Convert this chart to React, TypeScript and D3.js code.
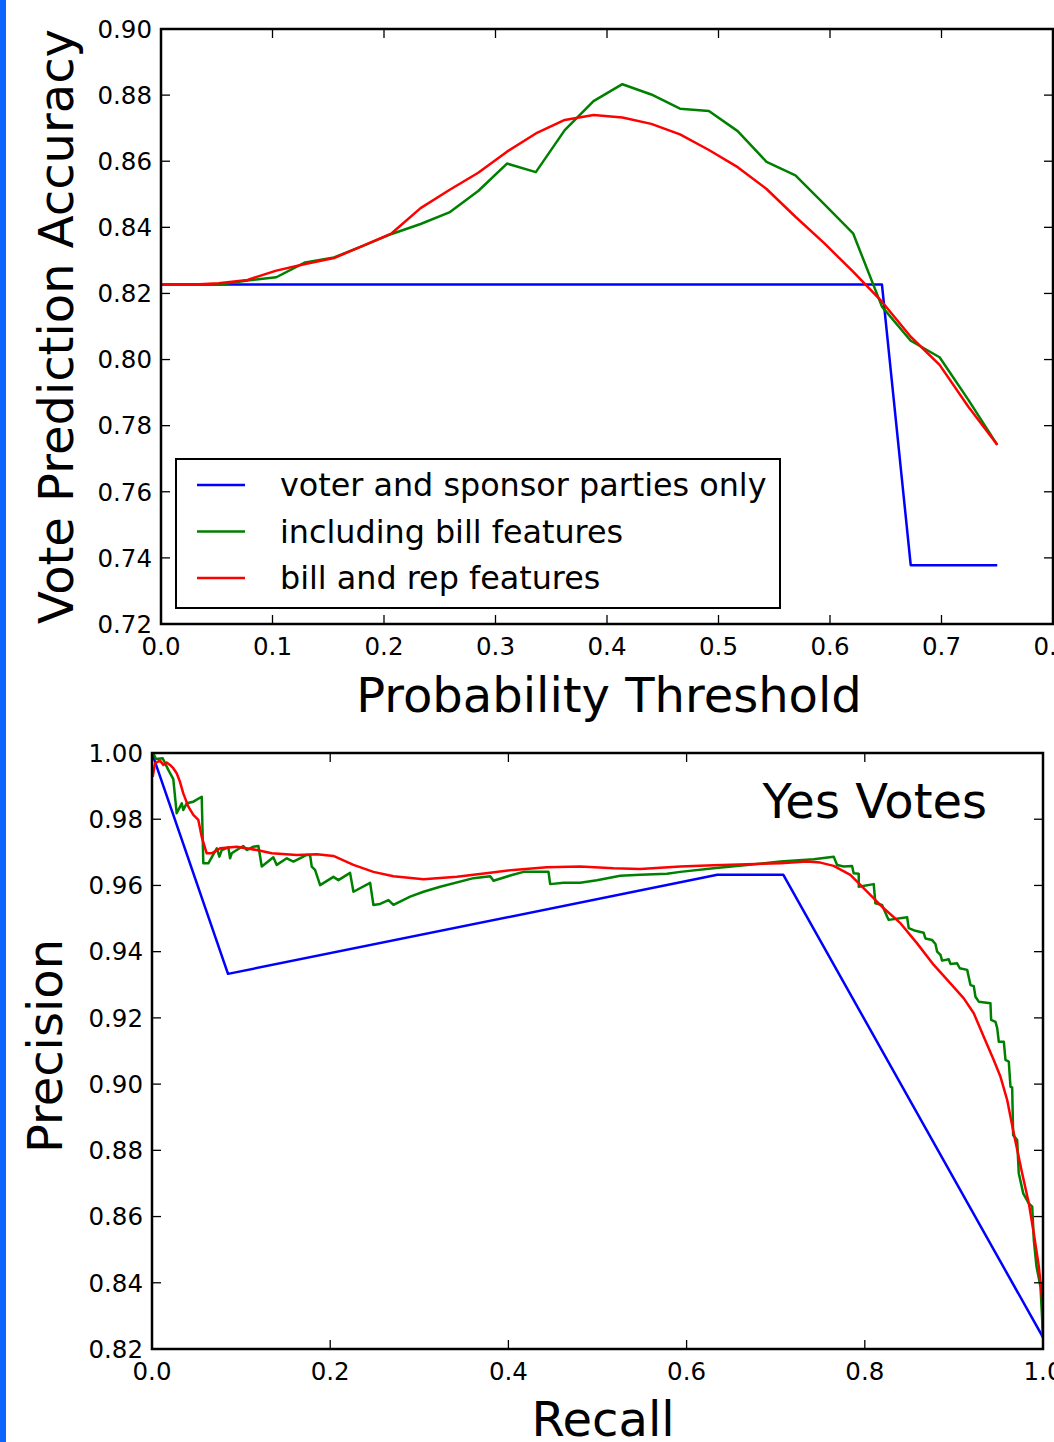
import React from "react";
import * as d3 from "d3";

// ---------- Top chart data ----------
const thresholds = [0, 0.0259, 0.0517, 0.0776, 0.1034, 0.1293, 0.1552, 0.181, 0.2069, 0.2328, 0.2586, 0.2845, 0.3103, 0.3362, 0.3621, 0.3879, 0.4138, 0.4397, 0.4655, 0.4914, 0.5172, 0.5431, 0.569, 0.5948, 0.6207, 0.6466, 0.6724, 0.6983, 0.7241, 0.75];
const accPartyOnly = [0.8227, 0.8227, 0.8227, 0.8227, 0.8227, 0.8227, 0.8227, 0.8227, 0.8227, 0.8227, 0.8227, 0.8227, 0.8227, 0.8227, 0.8227, 0.8227, 0.8227, 0.8227, 0.8227, 0.8227, 0.8227, 0.8227, 0.8227, 0.8227, 0.8227, 0.8227, 0.7378, 0.7378, 0.7378, 0.7378];
const accBill = [0.8226, 0.8226, 0.8226, 0.8239, 0.8249, 0.8294, 0.8309, 0.8344, 0.838, 0.841, 0.8445, 0.851, 0.8593, 0.8567, 0.8694, 0.8782, 0.8833, 0.8802, 0.8759, 0.8752, 0.8691, 0.8598, 0.8557, 0.847, 0.8382, 0.816, 0.8057, 0.8007, 0.7878, 0.7742];
const accBillRep = [0.8226, 0.8226, 0.8231, 0.8241, 0.8269, 0.8289, 0.8307, 0.8344, 0.8382, 0.8458, 0.8513, 0.8565, 0.8629, 0.8684, 0.8725, 0.874, 0.8732, 0.8713, 0.8681, 0.8634, 0.8582, 0.8516, 0.8432, 0.8352, 0.8266, 0.8175, 0.8069, 0.7984, 0.7857, 0.7742];
const topXTicks = [0, 0.1, 0.2, 0.3, 0.4, 0.5, 0.6, 0.7, 0.8];
const topYTicks = [0.72, 0.74, 0.76, 0.78, 0.8, 0.82, 0.84, 0.86, 0.88, 0.9];
const legendLabels = ["voter and sponsor parties only", "including bill features", "bill and rep features"];

// ---------- Bottom chart data ----------
const recallPartyOnly = [0, 0.0853, 0.6345, 0.7086, 1.0];
const precPartyOnly = [1.0, 0.9333, 0.9632, 0.9632, 0.8235];

const recallBill = [0.0015, 0.0045, 0.012, 0.0183, 0.0239, 0.0277, 0.0334, 0.0351, 0.039, 0.0464, 0.0558, 0.0576, 0.0632, 0.0727, 0.0756, 0.0783, 0.0857, 0.0876, 0.0895, 0.0951, 0.1025, 0.1063, 0.1138, 0.1194, 0.1232, 0.1362, 0.14, 0.1513, 0.1587, 0.1737, 0.1774, 0.1793, 0.183, 0.1887, 0.2036, 0.2092, 0.2223, 0.2261, 0.2448, 0.2485, 0.256, 0.2654, 0.271, 0.2897, 0.3047, 0.3234, 0.3608, 0.3796, 0.3833, 0.402, 0.417, 0.4376, 0.445, 0.4469, 0.4619, 0.4806, 0.4994, 0.5255, 0.548, 0.578, 0.5929, 0.6303, 0.6678, 0.7052, 0.7426, 0.7651, 0.7689, 0.7763, 0.7857, 0.7875, 0.7932, 0.7932, 0.81, 0.8119, 0.8194, 0.825, 0.8268, 0.8475, 0.8493, 0.8568, 0.8661, 0.868, 0.8756, 0.8793, 0.8812, 0.8849, 0.8868, 0.8942, 0.8961, 0.9036, 0.9066, 0.9149, 0.9186, 0.9223, 0.9242, 0.9279, 0.941, 0.9418, 0.9467, 0.9486, 0.9504, 0.956, 0.9579, 0.9616, 0.9635, 0.9654, 0.9665, 0.971, 0.9728, 0.9778, 0.984, 0.9879, 0.9897, 0.9927, 0.9972, 1.0];
const precBill = [0.9999, 0.9982, 0.9984, 0.9949, 0.9921, 0.9818, 0.9848, 0.9828, 0.9848, 0.9853, 0.9868, 0.9667, 0.9667, 0.9712, 0.9687, 0.9707, 0.9715, 0.9682, 0.9697, 0.9707, 0.9719, 0.9707, 0.9717, 0.9719, 0.9657, 0.9685, 0.9662, 0.9682, 0.9672, 0.9692, 0.9692, 0.9657, 0.9647, 0.9601, 0.9626, 0.9616, 0.9638, 0.9581, 0.9608, 0.9541, 0.9544, 0.9556, 0.9541, 0.9566, 0.9581, 0.9596, 0.9622, 0.9628, 0.9614, 0.963, 0.9641, 0.9641, 0.9641, 0.9604, 0.9608, 0.9608, 0.9616, 0.9629, 0.9632, 0.9635, 0.9641, 0.9652, 0.9662, 0.9672, 0.9679, 0.9687, 0.9662, 0.9657, 0.9659, 0.9637, 0.9635, 0.9596, 0.9604, 0.9546, 0.9541, 0.9506, 0.9496, 0.9504, 0.9471, 0.9463, 0.9457, 0.944, 0.9435, 0.9423, 0.94, 0.939, 0.9373, 0.9377, 0.9363, 0.9365, 0.935, 0.9345, 0.9299, 0.9296, 0.9264, 0.9249, 0.9244, 0.9194, 0.9188, 0.9169, 0.9128, 0.9128, 0.9073, 0.9068, 0.8992, 0.899, 0.8846, 0.8831, 0.8731, 0.867, 0.864, 0.863, 0.8529, 0.8449, 0.8388, 0.8240];

const recallBillRep = [0.0008, 0.0034, 0.009, 0.0127, 0.0165, 0.0202, 0.0239, 0.0277, 0.0314, 0.0351, 0.0408, 0.0464, 0.052, 0.0558, 0.0614, 0.067, 0.0764, 0.0951, 0.1176, 0.1344, 0.1625, 0.185, 0.2036, 0.2261, 0.2485, 0.271, 0.3047, 0.3422, 0.3796, 0.4057, 0.4432, 0.4806, 0.518, 0.548, 0.5929, 0.6303, 0.6678, 0.7052, 0.7352, 0.7501, 0.7651, 0.7838, 0.8026, 0.8212, 0.84, 0.8587, 0.8774, 0.8961, 0.9111, 0.9223, 0.9335, 0.9447, 0.9523, 0.9598, 0.9672, 0.9766, 0.9841, 0.9897, 0.9953, 0.9991, 1.0];
const precBillRep = [0.9928, 0.9969, 0.9977, 0.9964, 0.9971, 0.9964, 0.9954, 0.9939, 0.9913, 0.9878, 0.9838, 0.9813, 0.9798, 0.9747, 0.9697, 0.9697, 0.9712, 0.9717, 0.9707, 0.9697, 0.9692, 0.9694, 0.9689, 0.9662, 0.9641, 0.9628, 0.9619, 0.9626, 0.9638, 0.9647, 0.9655, 0.9657, 0.9652, 0.965, 0.9657, 0.9661, 0.9664, 0.9667, 0.9672, 0.9669, 0.9659, 0.9632, 0.9581, 0.9531, 0.9486, 0.9425, 0.936, 0.9304, 0.9259, 0.9214, 0.9143, 0.9073, 0.9022, 0.8952, 0.8851, 0.8731, 0.864, 0.8549, 0.8449, 0.8348, 0.8233];

const botXTicks = [0, 0.2, 0.4, 0.6, 0.8, 1.0];
const botYTicks = [0.82, 0.84, 0.86, 0.88, 0.9, 0.92, 0.94, 0.96, 0.98, 1.0];

const COLORS = ["#0000ff", "#008000", "#ff0000"];
const FONT = "DejaVu Sans, sans-serif";
const TICK_FS = 24.5;

type Pt = [number, number];

function Axes({ x, y, xTicks, yTicks, xFmt, yFmt, clipId }: any) {
  const [x0, x1] = x.range();
  const [y0, y1] = y.range(); // y0 bottom, y1 top
  const tl = 9;
  return (
    <g>
      {xTicks.map((t: number, i: number) => (
        <g key={"xt" + i}>
          <line x1={x(t)} x2={x(t)} y1={y0} y2={y0 - tl} stroke="#000" strokeWidth={1.3} />
          <line x1={x(t)} x2={x(t)} y1={y1} y2={y1 + tl} stroke="#000" strokeWidth={1.3} />
          <text x={x(t)} y={y0 + 31} textAnchor="middle" fontSize={TICK_FS} fontFamily={FONT} fill="#000">
            {xFmt(t)}
          </text>
        </g>
      ))}
      {yTicks.map((t: number, i: number) => (
        <g key={"yt" + i}>
          <line x1={x0} x2={x0 + tl} y1={y(t)} y2={y(t)} stroke="#000" strokeWidth={1.3} />
          <line x1={x1} x2={x1 - tl} y1={y(t)} y2={y(t)} stroke="#000" strokeWidth={1.3} />
          <text x={x0 - 9} y={y(t) + 8.8} textAnchor="end" fontSize={TICK_FS} fontFamily={FONT} fill="#000">
            {yFmt(t)}
          </text>
        </g>
      ))}
      <rect x={x0} y={y1} width={x1 - x0} height={y0 - y1} fill="none" stroke="#000" strokeWidth={2.5} />
    </g>
  );
}

export default function App() {
  // top chart scales
  const tx = d3.scaleLinear().domain([0, 0.8]).range([161, 1053]);
  const ty = d3.scaleLinear().domain([0.72, 0.9]).range([624, 29]);
  // bottom chart scales
  const bx = d3.scaleLinear().domain([0, 1]).range([152, 1043]);
  const by = d3.scaleLinear().domain([0.82, 1.0]).range([1349, 753]);

  const topLine = d3.line<Pt>().x((d) => tx(d[0])).y((d) => ty(d[1]));
  const botLine = d3.line<Pt>().x((d) => bx(d[0])).y((d) => by(d[1]));

  const topSeries = [accPartyOnly, accBill, accBillRep].map((s) =>
    thresholds.map((t, i) => [t, s[i]] as Pt)
  );
  const botSeries = [
    recallPartyOnly.map((r, i) => [r, precPartyOnly[i]] as Pt),
    recallBill.map((r, i) => [r, precBill[i]] as Pt),
    recallBillRep.map((r, i) => [r, precBillRep[i]] as Pt),
  ];

  const fmt1 = d3.format(".1f");
  const fmt2 = d3.format(".2f");

  const legX = 176, legY = 459, legW = 604, legH = 149;

  return (
    <svg width={1054} height={1442} style={{ position: "absolute", left: 0, top: 0 }} fontFamily={FONT}>
      <defs>
        <clipPath id="clipTop">
          <rect x={161} y={29} width={1053 - 161} height={624 - 29} />
        </clipPath>
        <clipPath id="clipBot">
          <rect x={152} y={753} width={1043 - 152} height={1349 - 753} />
        </clipPath>
      </defs>
      <rect x={0} y={0} width={1054} height={1442} fill="#fff" />
      <rect x={0} y={0} width={6} height={1442} fill="#0a66ff" />

      {/* ---- Top chart ---- */}
      <g clipPath="url(#clipTop)">
        {topSeries.map((s, i) => (
          <path key={i} d={topLine(s) || ""} fill="none" stroke={COLORS[i]} strokeWidth={2.5} strokeLinejoin="round" />
        ))}
      </g>
      <Axes x={tx} y={ty} xTicks={topXTicks} yTicks={topYTicks} xFmt={fmt1} yFmt={fmt2} />
      <g>
        <rect x={legX} y={legY} width={legW} height={legH} fill="#fff" stroke="#000" strokeWidth={2} />
        {legendLabels.map((lab, i) => {
          const yy = 485 + i * 46.5;
          return (
            <g key={i}>
              <line x1={197} x2={245} y1={yy} y2={yy} stroke={COLORS[i]} strokeWidth={2.5} />
              <text x={280} y={yy + 11} fontSize={31.8} fontFamily={FONT} fill="#000">
                {lab}
              </text>
            </g>
          );
        })}
      </g>
      <text x={609} y={712} textAnchor="middle" fontSize={48} fontFamily={FONT} fill="#000">
        Probability Threshold
      </text>
      <text transform="translate(73,326.5) rotate(-90)" textAnchor="middle" fontSize={48} fontFamily={FONT} fill="#000">
        Vote Prediction Accuracy
      </text>

      {/* ---- Bottom chart ---- */}
      <g clipPath="url(#clipBot)">
        {botSeries.map((s, i) => (
          <path key={i} d={botLine(s) || ""} fill="none" stroke={COLORS[i]} strokeWidth={2.5} strokeLinejoin="round" />
        ))}
      </g>
      <Axes x={bx} y={by} xTicks={botXTicks} yTicks={botYTicks} xFmt={fmt1} yFmt={fmt2} />
      <text x={987} y={818} textAnchor="end" fontSize={48} fontFamily={FONT} fill="#000">
        Yes Votes
      </text>
      <text x={603} y={1436} textAnchor="middle" fontSize={48} fontFamily={FONT} fill="#000">
        Recall
      </text>
      <text transform="translate(62,1046) rotate(-90)" textAnchor="middle" fontSize={48} fontFamily={FONT} fill="#000">
        Precision
      </text>
    </svg>
  );
}
